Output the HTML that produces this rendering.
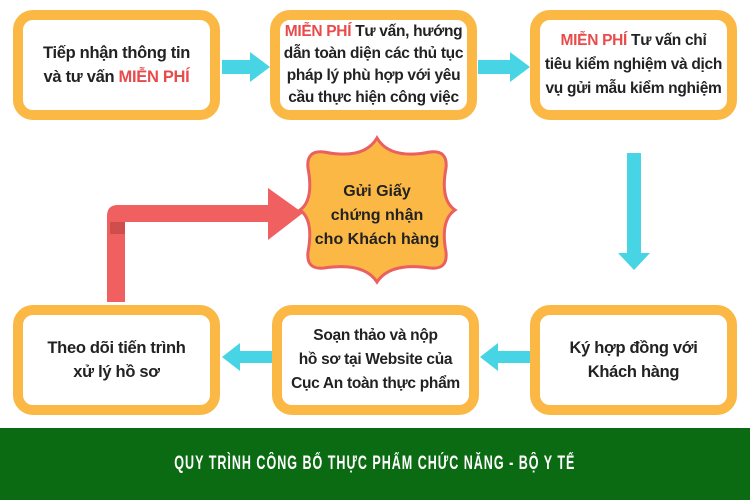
<!DOCTYPE html>
<html><head><meta charset="utf-8"><style>
body{margin:0;width:750px;height:500px;background:#fff;position:relative;overflow:hidden;font-family:"Liberation Sans","DejaVu Sans",sans-serif}
.box{position:absolute;width:187px;height:90px;border:10px solid #fbb845;border-radius:20px;background:#fff;display:flex;align-items:center;justify-content:center;text-align:center;font-weight:bold;font-size:16.5px;line-height:24px;color:#222;letter-spacing:-0.3px;white-space:nowrap}
.r{color:#e84b4b}
.band{position:absolute;left:0;top:428px;width:750px;height:72px;background:#0a6b12;color:#fff;text-align:center;font-weight:bold;font-size:19px;line-height:72px;letter-spacing:1.5px}
svg{position:absolute;left:0;top:0}
</style></head><body>
<svg width="750" height="430">
<polygon points="222,60 250,60 250,52 270,67 250,82 250,74 222,74" fill="#47d4e4"/>
<polygon points="478,60 510,60 510,52 530,67 510,82 510,74 478,74" fill="#47d4e4"/>
<polygon points="627,153 641,153 641,253 650,253 634,270 618,253 627,253" fill="#47d4e4"/>
<polygon points="530,351 498,351 498,343 480,357 498,371 498,363 530,363" fill="#47d4e4"/>
<polygon points="272,351 240,351 240,343 222,357 240,371 240,363 272,363" fill="#47d4e4"/>
<path d="M107,302 L107,216 Q107,205 118,205 L268,205 L268,188 L303,213 L268,240 L268,222 L125,222 L125,302 Z" fill="#f06060"/>
<rect x="110" y="222" width="15" height="12" fill="#b03a3a" opacity="0.5"/>
<path d="M377,138 Q390,160 430,152 Q448,150 446,168 Q440,200 455,210 Q440,220 446,252 Q448,270 430,268 Q390,262 377,282 Q364,262 324,268 Q306,270 308,252 Q314,220 300,210 Q314,200 308,168 Q306,150 324,152 Q364,160 377,138 Z" fill="#fbb845" stroke="#ea5f5f" stroke-width="3"/>
<g font-family="Liberation Sans, sans-serif" font-weight="bold" font-size="16" fill="#222" text-anchor="middle">
<text x="377" y="196">Gửi Giấy</text>
<text x="377" y="220">chứng nhận</text>
<text x="377" y="244">cho Khách hàng</text>
</g>
</svg>
<div class="box" style="left:13px;top:10px"><div>Tiếp nhận thông tin<br>và tư vấn <span class="r">MIỄN PHÍ</span></div></div>
<div class="box" style="left:270px;top:10px;font-size:15.5px;line-height:22px"><div><span class="r">MIỄN PHÍ</span> Tư vấn, hướng<br>dẫn toàn diện các thủ tục<br>pháp lý phù hợp với yêu<br>cầu thực hiện công việc</div></div>
<div class="box" style="left:530px;top:10px;font-size:15.5px"><div><span class="r">MIỄN PHÍ</span> Tư vấn chỉ<br>tiêu kiểm nghiệm và dịch<br>vụ gửi mẫu kiểm nghiệm</div></div>
<div class="box" style="left:13px;top:305px"><div>Theo dõi tiến trình<br>xử lý hồ sơ</div></div>
<div class="box" style="left:272px;top:305px;font-size:15.5px"><div>Soạn thảo và nộp<br>hồ sơ tại Website của<br>Cục An toàn thực phẩm</div></div>
<div class="box" style="left:530px;top:305px"><div>Ký hợp đồng với<br>Khách hàng</div></div>
<div class="band"><span style="display:inline-block;transform:scaleX(0.66)">QUY TRÌNH CÔNG BỐ THỰC PHẨM CHỨC NĂNG - BỘ Y TẾ</span></div>
</body></html>
